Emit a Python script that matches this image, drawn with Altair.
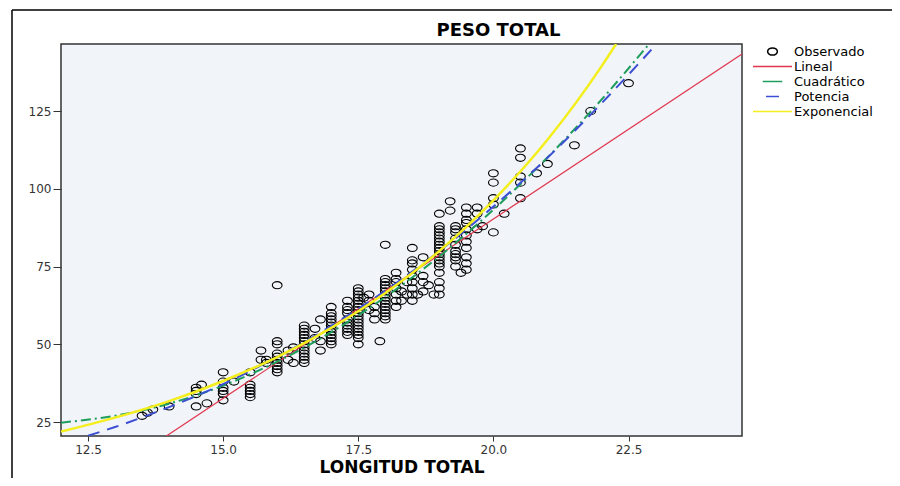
import altair as alt
import pandas as pd

# ---------------- data ----------------
series = ["Observado", "Lineal", "Cuadrático", "Potencia", "Exponencial"]
series_colors = ["#000000", "#e0374f", "#1f9d5c", "#3c4fd4", "#f4ef1c"]

obs_x = (
    [13.5, 13.6, 13.7, 14.0]
    + [14.5, 14.5, 14.5, 14.6, 14.5, 14.7]
    + [15.0] * 6 + [15.2]
    + [15.5] * 6
    + [15.7, 15.7, 15.8, 15.8]
    + [16.0] * 10
    + [16.2, 16.2, 16.3, 16.3]
    + [16.5] * 13
    + [16.7, 16.7, 16.8, 16.8, 16.8]
    + [17.0] * 12
    + [17.3] * 10
    + [17.5] * 18
    + [17.6, 17.7, 17.7, 17.7, 17.8, 17.8, 17.8, 17.9]
    + [18.0] * 15
    + [18.2] * 7
    + [18.3, 18.3, 18.4, 18.4]
    + [18.5] * 9
    + [18.7, 18.7, 18.7, 18.7, 18.8, 18.6, 18.9]
    + [19.0] * 19
    + [19.2, 19.2]
    + [19.3] * 10
    + [19.5] * 11
    + [19.4, 19.7, 19.7, 19.7, 19.8]
    + [20.0] * 5
    + [20.2]
    + [20.5] * 5
    + [20.8, 21.0, 21.5, 21.8, 22.5]
)
obs_y = (
    [27, 28, 29, 30]
    + [36, 35, 34, 37, 30, 31]
    + [41, 38, 36, 35, 34, 32] + [38]
    + [41, 37, 36, 35, 34, 33]
    + [48, 45, 44, 45]
    + [69, 51, 50, 47, 46, 45, 44, 43, 42, 41]
    + [48, 45, 44, 49]
    + [56, 55, 54, 53, 52, 51, 50, 49, 48, 47, 46, 45, 44]
    + [55, 52, 58, 51, 48]
    + [62, 60, 59, 58, 57, 56, 55, 54, 53, 52, 51, 50]
    + [64, 62, 61, 60, 58, 57, 56, 55, 54, 53]
    + [68, 67, 66, 65, 64, 63, 62, 61, 60, 59, 58, 57, 56, 55, 54, 53, 52, 50]
    + [65, 66, 64, 61, 62, 60, 58, 51]
    + [82, 71, 70, 69, 68, 67, 66, 65, 64, 63, 62, 61, 60, 59, 58]
    + [73, 71, 70, 68, 66, 64, 62]
    + [67, 64, 66, 70]
    + [81, 77, 76, 74, 72, 70, 68, 66, 64]
    + [78, 72, 70, 67, 69, 66, 66]
    + [92, 88, 87, 86, 85, 84, 83, 82, 81, 80, 79, 78, 77, 76, 75, 73, 70, 68, 66]
    + [96, 93]
    + [88, 87, 86, 84, 82, 80, 79, 78, 77, 75]
    + [94, 92, 90, 89, 87, 85, 83, 81, 78, 76, 74]
    + [73, 94, 92, 87, 88]
    + [105, 102, 97, 95, 86]
    + [92]
    + [113, 110, 104, 102, 97]
    + [105, 108, 114, 125, 134]
)

lin_x = [13.95, 24.6]
lin_y = [20.5, 143.4]

quad_x = [12.0, 13.0, 14.0, 15.0, 16.0, 17.0, 18.0, 19.0, 20.0, 21.0, 22.0, 22.88]
quad_y = [24.8, 27.0, 30.9, 36.7, 44.4, 53.9, 65.2, 78.3, 93.3, 110.1, 128.7, 146.6]

pow_x = [12.5, 13.0, 14.0, 15.0, 16.0, 17.0, 18.0, 19.0, 20.0, 21.0, 22.0, 23.02]
pow_y = [20.6, 23.4, 29.8, 37.2, 45.9, 55.9, 67.2, 80.0, 94.3, 110.0, 127.5, 146.6]

exp_x = [12.0, 13.0, 14.0, 15.0, 16.0, 17.0, 18.0, 19.0, 20.0, 21.0, 22.0, 22.27]
exp_y = [21.9, 26.4, 31.7, 38.2, 45.9, 55.3, 66.5, 80.0, 96.3, 115.8, 139.4, 146.6]

x_ticks = [12.5, 15.0, 17.5, 20.0, 22.5]
y_ticks = [25, 50, 75, 100, 125]
x_domain = [12.0, 24.6]
y_domain = [20.5, 146.6]

# ---------------- tables ----------------
obs_df = pd.DataFrame({"x": obs_x, "y": obs_y, "serie": "Observado"})


def curve(name, xs, ys):
    return pd.DataFrame({"x": xs, "y": ys, "serie": name})


lin_df = curve("Lineal", lin_x, lin_y)
quad_df = curve("Cuadrático", quad_x, quad_y)
pow_df = curve("Potencia", pow_x, pow_y)
exp_df = curve("Exponencial", exp_x, exp_y)

# ---------------- encodings ----------------
FONT = "DejaVu Sans"
# symbol size 169 -> unit = 6.5 px
ellipse = "M -0.75 0 A 0.75 0.55 0 1 0 0.75 0 A 0.75 0.55 0 1 0 -0.75 0 Z"
shapes = [ellipse, "M -3 0 L 3 0", "M -1.5 0 L 1.5 0", "M -1 0 L 1 0", "M -3 0 L 3 0"]

xenc = alt.X(
    "x:Q",
    scale=alt.Scale(domain=x_domain, nice=False, zero=False),
    axis=alt.Axis(
        values=x_ticks, format=".1f", title="LONGITUD TOTAL", grid=False, domain=False,
        tickSize=5, tickColor="#333333", labelColor="#333333", labelFont=FONT,
        labelFontSize=12, labelPadding=3, titleFont=FONT, titleFontSize=17,
        titleFontWeight="bold", titleColor="#000000", titlePadding=4,
    ),
)
yenc = alt.Y(
    "y:Q",
    scale=alt.Scale(domain=y_domain, nice=False, zero=False),
    axis=alt.Axis(
        values=y_ticks, title=None, grid=False, domain=False, tickSize=8,
        tickColor="#333333", labelColor="#333333", labelFont=FONT,
        labelFontSize=12, labelPadding=2,
    ),
)
color_scale = alt.Scale(domain=series, range=series_colors)
legend = alt.Legend(
    title=None, orient="none", legendX=704, legendY=0, labelFont=FONT,
    labelFontSize=13, labelColor="#000000", symbolSize=169,
    symbolStrokeWidth=1.5, rowPadding=0, labelOffset=14, padding=0,
)

points = alt.Chart(obs_df).mark_point(
    filled=False, size=169, strokeWidth=1.1, opacity=1, clip=True
).encode(
    x=xenc, y=yenc,
    color=alt.Color("serie:N", scale=color_scale, legend=legend),
    shape=alt.Shape("serie:N", scale=alt.Scale(domain=series, range=shapes), legend=legend),
)


def line_layer(df, width, dash=None):
    kw = dict(strokeWidth=width, clip=True, interpolate="monotone")
    if dash:
        kw["strokeDash"] = dash
    return alt.Chart(df).mark_line(**kw).encode(
        x=xenc, y=yenc,
        color=alt.Color("serie:N", scale=color_scale, legend=legend),
    )


lin = line_layer(lin_df, 1.2)
quad = line_layer(quad_df, 2, [10, 4, 2, 4])
pw = line_layer(pow_df, 2, [12, 8])
ex = line_layer(exp_df, 2.5)

frame_data = alt.Data(values=[{"k": 0}])
top_rule = alt.Chart(frame_data).mark_rule(color="#000000", strokeWidth=1.5).encode(
    x=alt.value(-49), x2=alt.value(831), y=alt.value(-34)
)
left_rule = alt.Chart(frame_data).mark_rule(color="#000000", strokeWidth=1.5).encode(
    x=alt.value(-49), y=alt.value(-34), y2=alt.value(434)
)

chart = alt.layer(points, lin, quad, pw, ex, top_rule, left_rule).properties(
    width=681,
    height=392,
    autosize=alt.AutoSizeParams(type="none"),
    padding={"left": 53, "top": 36, "right": 150, "bottom": 42},
    background="#ffffff",
    title=alt.TitleParams(
        "PESO TOTAL", font=FONT, fontSize=18, fontWeight="bold", color="#000000",
        anchor="middle", dx=97, dy=35, offset=4, frame="group",
    ),
).configure_view(
    fill="#f1f4f9", stroke="#333333", strokeWidth=1.5
)

chart.save("out.html", embed_options={"renderer": "svg", "actions": False})
